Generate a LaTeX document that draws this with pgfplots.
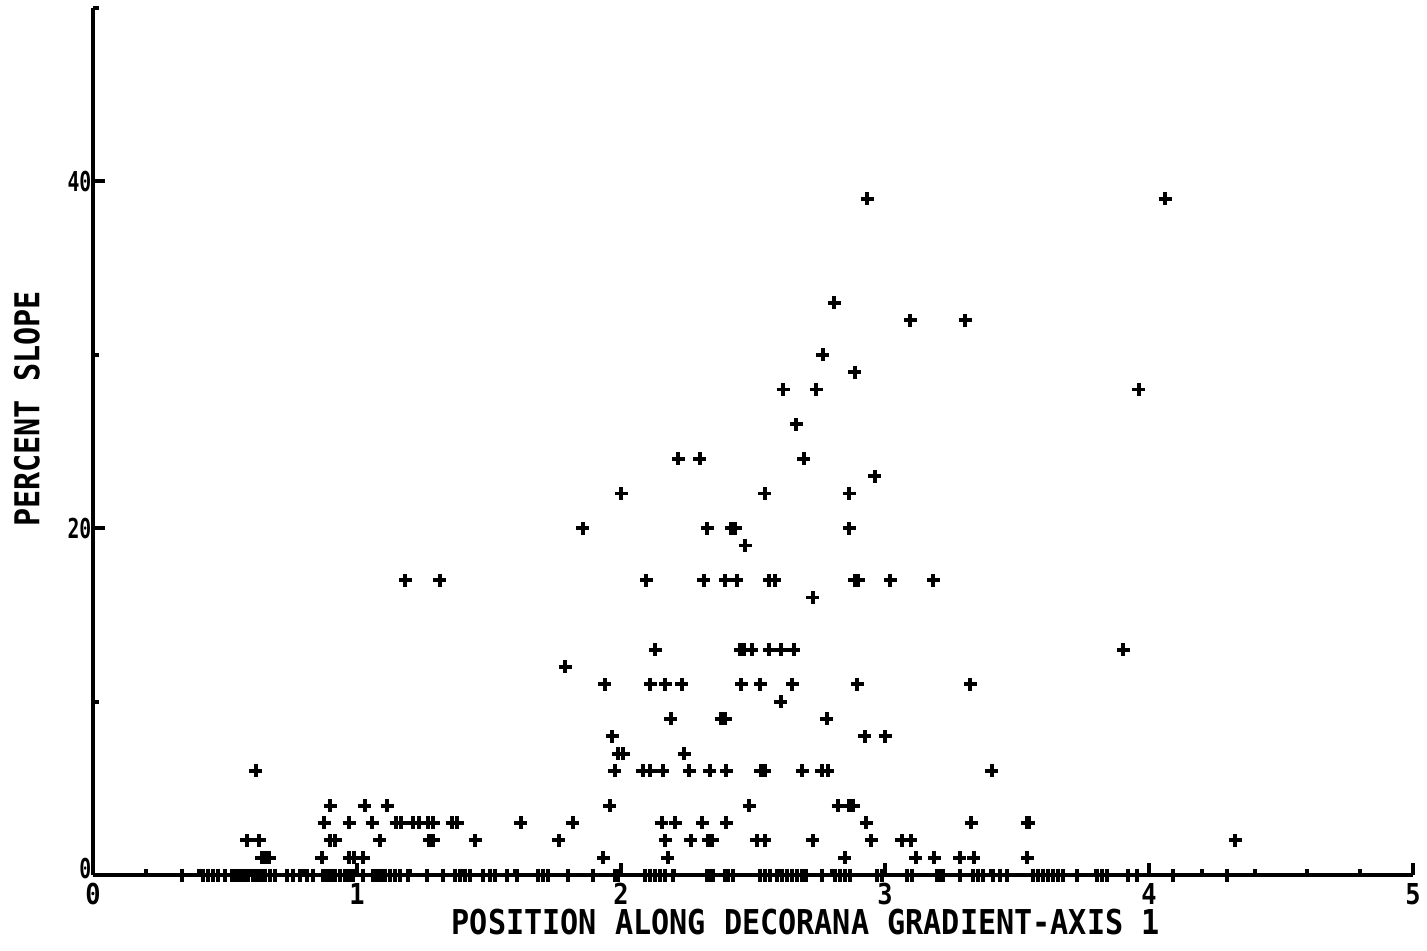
\documentclass[border=0pt]{standalone}
\usepackage{pgfplots}
\pgfplotsset{compat=1.18}
\usepackage{fontspec}
\newfontfamily\plotfont[FakeStretch=0.88]{DejaVu Sans Mono}
\newfontfamily\plotfontn[FakeStretch=0.72]{DejaVu Sans Mono}

\begin{document}
\begin{tikzpicture}
\begin{axis}[
  at={(0,0)}, anchor=south west,
  scale only axis, width=132mm, height=86.7mm,
  xmin=0, xmax=5, ymin=0, ymax=50,
  axis lines=left, axis line style={-, line width=1.1pt},
  xtick={0,1,2,3,4,5}, ytick={0,20,40},
  minor xtick={0.2,0.4,0.6,0.8,1.2,1.4,1.6,1.8,2.2,2.4,2.6,2.8,3.2,3.4,3.6,3.8,4.2,4.4,4.6,4.8},
  minor ytick={10,30,50},
  tick align=inside, xtick pos=bottom, ytick pos=left,
  major tick length=1.2mm, minor tick length=0.6mm,
  every tick/.style={line width=1.1pt, black},
  xticklabel style={font=\plotfont\bfseries\fontsize{8.2}{9}\selectfont, anchor=center, inner sep=0pt, yshift=-1.9mm},
  yticklabel style={font=\plotfontn\bfseries\fontsize{7.8}{9}\selectfont, anchor=east, inner sep=0pt, xshift=-0.1mm},
  xticklabels={0,1,2,3,4,5},
  yticklabels={\raisebox{1.3mm}{0},20,40},
  xlabel={POSITION ALONG DECORANA GRADIENT-AXIS 1},
  ylabel={PERCENT SLOPE},
  xlabel style={font=\plotfont\bfseries\fontsize{9.75}{11}\selectfont, at={(axis description cs:0.540,-0.0542)}, anchor=center},
  ylabel style={font=\plotfont\bfseries\fontsize{9.75}{11}\selectfont, at={(axis description cs:-0.05,0.5375)}, anchor=center, rotate=0},
  clip=false,
]
\addplot[only marks, mark=+, mark size=0.65mm, mark options={line width=1.1pt}, black] coordinates {
(2.932,39) (4.061,39) (2.807,33) (3.095,32) (3.303,32) (2.765,30) (2.886,29)
(2.614,28) (2.739,28) (3.962,28) (2.663,26) (2.216,24) (2.299,24) (2.693,24)
(2.962,23) (2.000,22) (2.545,22) (2.864,22)
(1.856,20) (2.326,20) (2.417,20) (2.432,20) (2.864,20) (2.470,19)
(1.182,17) (1.314,17) (2.095,17) (2.314,17) (2.394,17) (2.439,17) (2.561,17) (2.583,17) (2.886,17) (2.898,17) (3.019,17) (3.182,17)
(2.727,16)
(2.129,13) (2.451,13) (2.466,13) (2.496,13) (2.561,13) (2.606,13) (2.655,13) (3.902,13)
(1.788,12)
(1.939,11) (2.110,11) (2.167,11) (2.231,11) (2.455,11) (2.527,11) (2.648,11) (2.894,11) (3.322,11)
(2.606,10)
(2.189,9) (2.379,9) (2.394,9) (2.780,9)
(1.966,8) (2.924,8) (3.000,8)
(1.989,7) (2.008,7) (2.239,7)
(0.617,6) (1.977,6) (2.083,6) (2.110,6) (2.159,6) (2.258,6) (2.337,6) (2.398,6) (2.530,6) (2.545,6) (2.686,6) (2.761,6) (2.784,6) (3.405,6)
(0.898,4) (1.030,4) (1.114,4) (1.958,4) (2.485,4) (2.822,4) (2.864,4) (2.879,4)
(0.875,3) (0.970,3) (1.057,3) (1.148,3) (1.167,3) (1.212,3) (1.235,3) (1.269,3) (1.288,3) (1.360,3) (1.379,3) (1.621,3) (1.818,3) (2.155,3) (2.205,3) (2.307,3) (2.398,3) (2.928,3) (3.326,3) (3.538,3) (3.545,3)
(0.583,2) (0.629,2) (0.898,2) (0.917,2) (1.087,2) (1.273,2) (1.288,2) (1.447,2) (1.765,2) (2.167,2) (2.265,2) (2.330,2) (2.345,2) (2.515,2) (2.545,2) (2.727,2) (2.947,2) (3.064,2) (3.098,2) (4.326,2)
(0.640,1) (0.652,1) (0.667,1) (0.867,1) (0.970,1) (0.989,1) (1.023,1) (1.932,1) (2.178,1) (2.848,1) (3.117,1) (3.186,1) (3.284,1) (3.337,1) (3.538,1)
(0.337,0) (0.417,0) (0.436,0) (0.455,0) (0.473,0) (0.500,0) (0.527,0) (0.542,0) (0.557,0) (0.572,0) (0.587,0) (0.606,0) (0.621,0) (0.636,0) (0.652,0) (0.670,0) (0.689,0) (0.735,0) (0.758,0) (0.784,0) (0.811,0) (0.833,0) (0.871,0) (0.886,0) (0.902,0) (0.917,0) (0.936,0) (0.955,0) (0.970,0) (0.985,0) (1.023,0) (1.061,0) (1.076,0) (1.091,0) (1.106,0) (1.125,0) (1.144,0) (1.163,0) (1.193,0) (1.265,0) (1.326,0) (1.371,0) (1.390,0) (1.409,0) (1.428,0) (1.477,0) (1.504,0) (1.523,0) (1.568,0) (1.606,0) (1.686,0) (1.705,0) (1.723,0) (1.799,0) (1.894,0) (1.977,0) (1.989,0) (2.091,0) (2.110,0) (2.129,0) (2.148,0) (2.167,0) (2.197,0) (2.326,0) (2.337,0) (2.348,0) (2.394,0) (2.405,0) (2.424,0) (2.527,0) (2.545,0) (2.564,0) (2.591,0) (2.610,0) (2.629,0) (2.648,0) (2.667,0) (2.686,0) (2.701,0) (2.761,0) (2.811,0) (2.830,0) (2.848,0) (2.867,0) (2.970,0) (2.989,0) (3.083,0) (3.102,0) (3.197,0) (3.208,0) (3.220,0) (3.284,0) (3.333,0) (3.352,0) (3.371,0) (3.409,0) (3.436,0) (3.462,0) (3.561,0) (3.580,0) (3.598,0) (3.617,0) (3.636,0) (3.655,0) (3.674,0) (3.727,0) (3.803,0) (3.822,0) (3.841,0) (3.920,0) (3.955,0) (4.091,0) (4.295,0)
};
\end{axis}
\pgfresetboundingbox
\path[use as bounding box] (-9.3mm,-7.5mm) rectangle (133.4mm,87.5mm);
\end{tikzpicture}
\end{document}
